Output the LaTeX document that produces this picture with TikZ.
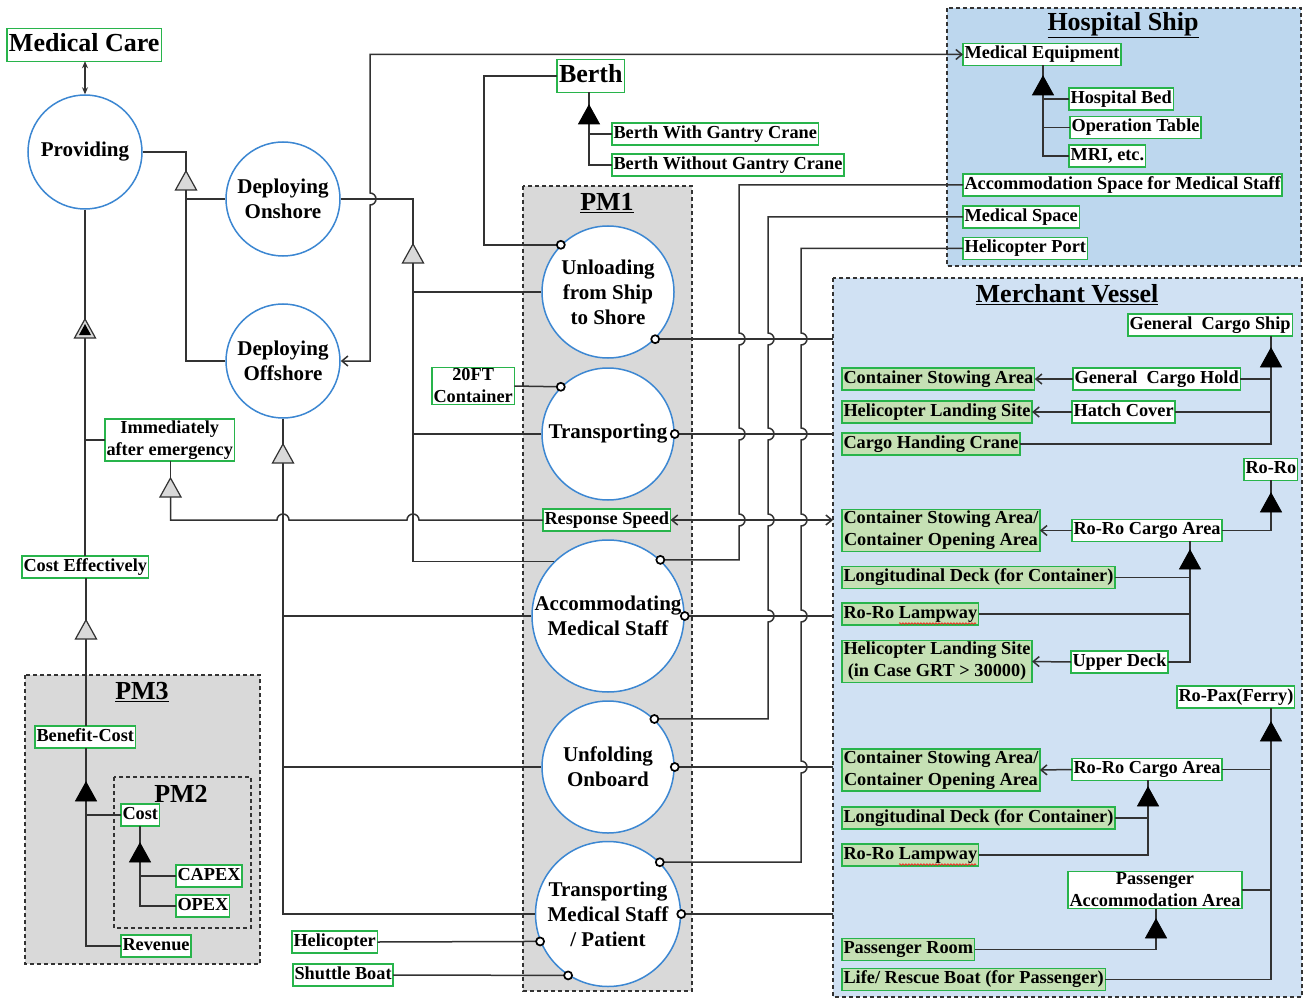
\documentclass[tikz,border=0pt]{standalone}
\usepackage{fontspec}
\setmainfont{Liberation Serif}
\usetikzlibrary{arrows.meta,decorations.pathmorphing}
\definecolor{linec}{RGB}{50,50,50}
\definecolor{greenb}{RGB}{40,180,75}
\definecolor{greenf}{RGB}{197,224,180}
\definecolor{circb}{RGB}{60,135,210}
\definecolor{grayf}{RGB}{217,217,217}
\definecolor{hsf}{RGB}{189,215,238}
\definecolor{mvf}{RGB}{208,225,243}
\newcommand\fz[2]{\fontsize{#1}{#2}\selectfont\bfseries}
\newcommand\gtri[1]{\draw[trigray,shift={(#1)}] (-10.5,0) -- (10.5,0) -- (0,-19) -- cycle;}
\newcommand\btri[1]{\draw[triblk,shift={(#1)}] (-10.5,0) -- (10.5,0) -- (0,-19) -- cycle;}
\newcommand\dtri[1]{\gtri{#1}\fill[black,shift={(#1)}] (-6,-3) -- (6,-3) -- (0,-14) -- cycle;}
\begin{document}
\begin{tikzpicture}[x=1pt,y=-1pt,
  ln/.style={draw=linec,line width=1.5pt},
  lbl/.style={draw=greenb,fill=white,line width=1.3pt,inner xsep=1.5pt,inner ysep=2.2pt,
    text height=13pt,text depth=4.5pt,font=\fz{18.3}{21},anchor=west,outer sep=0pt},
  glbl/.style={lbl,fill=greenf},
  lbl2/.style={draw=greenb,fill=white,line width=1.3pt,inner xsep=1.5pt,inner ysep=1.5pt,
    font=\fz{18.3}{22},anchor=west,align=center,outer sep=0pt},
  glbl2/.style={lbl2,fill=greenf},
  big/.style={lbl,font=\fz{26}{30},text height=18pt,text depth=5.5pt,inner ysep=4.5pt,inner xsep=2pt},
  proc/.style={circle,draw=circb,fill=white,line width=1.5pt,inner sep=0pt},
  ptxt/.style={font=\fz{21}{25},align=center,inner sep=0pt},
  frame/.style={draw=black!80,dash pattern=on 4pt off 3pt,line width=1.1pt},
  ttl/.style={font=\fz{26}{30}},
  trigray/.style={draw=linec,fill=grayf,line width=1.2pt},
  triblk/.style={draw=black,fill=black,line width=0.8pt},
  port/.style={draw=black,fill=white,line width=1.7pt},
  obarb/.tip={Straight Barb[length=6pt,width=10pt]}
]
\fill[white] (0,0) rectangle (1306,1000);
\useasboundingbox (0,0) rectangle (1306,1000);

% frames
\draw[frame,fill=hsf] (947,8) rectangle (1301,266);
\draw[frame,fill=mvf] (833,278) rectangle (1302,997);
\draw[frame,fill=grayf] (523,186) rectangle (692,991);
\draw[frame,fill=grayf] (25,675) rectangle (260,964);
\draw[frame] (114,777) rectangle (251,928);

% titles
\node[ttl] (hst) at (1123,25) {\underline{Hospital Ship}};
\node[ttl] (mvt) at (1067,295) {\underline{Merchant Vessel}};
\node[ttl] (pm1t) at (607,203) {\underline{PM1}};
\node[ttl] (pm3t) at (142,692) {\underline{PM3}};
\node[ttl] (pm2t) at (181,794) {PM2};

% process circles
\node[proc,minimum size=114pt,label={[ptxt]center:Providing}] (prov) at (85,152) {};
\node[proc,minimum size=114pt,label={[ptxt]center:{Deploying\\Onshore}}] (onsh) at (283,199) {};
\node[proc,minimum size=114pt,label={[ptxt]center:{Deploying\\Offshore}}] (offs) at (283,361) {};
\node[proc,minimum size=132pt,label={[ptxt]center:{Unloading\\from Ship\\to Shore}}] (unload) at (608,292) {};
\node[proc,minimum size=132pt,label={[ptxt]center:Transporting}] (transp) at (608,434) {};
\node[proc,minimum size=152pt,label={[ptxt]center:{Accommodating\\Medical Staff}}] (acc) at (608,616) {};
\node[proc,minimum size=132pt,label={[ptxt]center:{Unfolding\\Onboard}}] (unf) at (608,767) {};
\node[proc,minimum size=145pt,label={[ptxt]center:{Transporting\\Medical Staff\\/ Patient}}] (tms) at (608,914) {};

% labels
\node[big] (medcare) at (7,45) {Medical Care};
\node[big] (berth) at (557,76) {Berth};
\node[lbl2] (immed) at (105,440) {Immediately\\after emergency};
\node[lbl] (costeff) at (22,567) {Cost Effectively};
\node[lbl] (bencost) at (35,737) {Benefit-Cost};
\node[lbl] (cost) at (121,815) {Cost};
\node[lbl] (capex) at (176,876) {CAPEX};
\node[lbl] (opex) at (176,906) {OPEX};
\node[lbl] (revenue) at (121,946) {Revenue};
\node[lbl] (heli) at (292,942) {Helicopter};
\node[lbl] (shuttle) at (293,975) {Shuttle Boat};
\node[lbl2] (ft20) at (432,386) {20FT\\Container};
\node[lbl] (resp) at (543,520) {Response Speed};
\node[lbl] (bwith) at (612,134) {Berth With Gantry Crane};
\node[lbl] (bwithout) at (612,165) {Berth Without Gantry Crane};
\node[lbl] (medeq) at (963,54.5) {Medical Equipment};
\node[lbl] (hbed) at (1069,99) {Hospital Bed};
\node[lbl] (optab) at (1070,127.5) {Operation Table};
\node[lbl] (mri) at (1069,156) {MRI, etc.};
\node[lbl] (accsp) at (963,185) {Accommodation Space for Medical Staff};
\node[lbl] (medsp) at (963,217) {Medical Space};
\node[lbl] (heliport) at (963,248.5) {Helicopter Port};
\node[lbl] (gcs) at (1128,325) {General\ \ Cargo Ship};
\node[glbl] (csa1) at (842,379) {Container Stowing Area};
\node[lbl] (gch) at (1073,379) {General\ \ Cargo Hold};
\node[glbl] (hls1) at (842,412) {Helicopter Landing Site};
\node[lbl] (hatch) at (1072,412) {Hatch Cover};
\node[glbl] (crane) at (842,444) {Cargo Handing Crane};
\node[lbl] (roro) at (1244,469.5) {Ro-Ro};
\node[glbl2] (cc1) at (842,530.5) {Container Stowing Area/\\Container Opening Area};
\node[lbl] (rrca1) at (1072,530.5) {Ro-Ro Cargo Area};
\node[glbl] (ld1) at (842,577.5) {Longitudinal Deck (for Container)};
\node[glbl] (lamp1) at (842,614) {Ro-Ro Lampway};
\node[glbl2] (hls2) at (842,661.5) {Helicopter Landing Site\\(in Case GRT > 30000)};
\node[lbl] (upper) at (1071,662) {Upper Deck};
\node[lbl] (ropax) at (1177,697) {Ro-Pax(Ferry)};
\node[glbl2] (cc2) at (842,770) {Container Stowing Area/\\Container Opening Area};
\node[lbl] (rrca2) at (1072,769.5) {Ro-Ro Cargo Area};
\node[glbl] (ld2) at (842,818) {Longitudinal Deck (for Container)};
\node[glbl] (lamp2) at (842,855) {Ro-Ro Lampway};
\node[lbl2] (paa) at (1068,890) {Passenger\\Accommodation Area};
\node[glbl] (proom) at (842,949.5) {Passenger Room};
\node[glbl] (life) at (842,979.5) {Life/ Rescue Boat (for Passenger)};

% spell-check squiggles
\draw[red,line width=0.6pt,decorate,decoration={snake,amplitude=0.8pt,segment length=3pt}] (899,623.5) -- (976,623.5);
\draw[red,line width=0.6pt,decorate,decoration={snake,amplitude=0.8pt,segment length=3pt}] (899,864.5) -- (976,864.5);

% junction coordinates (triangle bases)
\coordinate (tP) at (186,190);
\coordinate (tO) at (413,263);
\coordinate (tF) at (283,463);
\coordinate (tM) at (85,338);
\coordinate (tC) at (86,639);
\coordinate (tI) at (170.5,497);
\coordinate (tB) at (589,124);
\coordinate (tE) at (1043,95);
\coordinate (tG) at (1271,367);
\coordinate (tR) at (1271,512);
\coordinate (tRC) at (1190,569);
\coordinate (tX) at (1271,741);
\coordinate (tRC2) at (1148,806);
\coordinate (tPA) at (1156,938);
\coordinate (tBC) at (86,801);
\coordinate (tCO) at (140,862);
\coordinate (mvw) at (833,0);

% connectors
\draw[ln,line width=1.2pt,{Stealth[length=7pt,width=6pt]}-{Stealth[length=7pt,width=6pt]}] (medcare.south -| prov.north) -- (prov.north);

\draw[ln] (prov.east) -| (tP);
\draw[ln] (onsh.west) -- (onsh.west -| tP);
\draw[ln] (offs.west) -| (tP);

\draw[ln] (onsh.east) -| (tO);
\draw[ln] (unload.west) -| (tO);
\draw[ln] (transp.west) -| (tO);
\draw[ln] (acc.135) -| (tO);

\draw[ln] (offs.south) -- (tF);
\draw[ln] (acc.west) -| (tF);
\draw[ln] (unf.west) -| (tF);
\draw[ln] (tms.west) -| (tF);

\draw[ln] (prov.south) -- (tM);
\draw[ln] (immed.west) -| (tM);
\draw[ln] (costeff.north -| tM) -- (tM);
\draw[ln] (costeff.south -| tC) -- (tC);
\draw[ln] (bencost.north -| tC) -- (tC);
\draw[ln] (bencost.south -| tBC) -- (tBC);
\draw[ln] (cost.west) -| (tBC);
\draw[ln] (revenue.west) -| (tBC);
\draw[ln] (cost.south -| tCO) -- (tCO);
\draw[ln] (capex.west) -| (tCO);
\draw[ln] (opex.west) -| (tCO);

\draw[ln] (immed.south -| tI) -- (tI);
\draw[ln] (tI) |- (277,520) arc[start angle=180,end angle=0,radius=6pt] -- (407,520) arc[start angle=180,end angle=0,radius=6pt] -- (resp.west);
\draw[ln,obarb-obarb] (resp.east) -- (resp.east -| mvw);

\draw[ln] (berth.west) -- ++(-73,0) |- (unload.135);
\draw[ln] (berth.south -| tB) -- (tB);
\draw[ln] (bwith.west) -| (tB);
\draw[ln] (bwithout.west) -| (tB);

\draw[ln] (ft20.east) -- (transp.135);
\draw[ln] (heli.east) -- (tms.202);
\draw[ln] (shuttle.east) -- (tms.237);

\draw[ln,obarb-obarb] (offs.east) -| (370,205) arc[start angle=-90,end angle=90,radius=6pt] |- (medeq.west);

\draw[ln] (unload.-45) -- (unload.-45 -| mvw);
\draw[ln] (transp.east) -- (transp.east -| mvw);
\draw[ln] (acc.east) -- (acc.east -| mvw);
\draw[ln] (unf.east) -- (unf.east -| mvw);
\draw[ln] (tms.east) -- (tms.east -| mvw);

\draw[ln] (accsp.west) -| (739,333) arc[start angle=90,end angle=-90,radius=6pt]
  -- (739,428) arc[start angle=90,end angle=-90,radius=6pt]
  -- (739,514) arc[start angle=90,end angle=-90,radius=6pt] |- (acc.47);
\draw[ln] (medsp.west) -| (768,333) arc[start angle=90,end angle=-90,radius=6pt]
  -- (768,428) arc[start angle=90,end angle=-90,radius=6pt]
  -- (768,514) arc[start angle=90,end angle=-90,radius=6pt]
  -- (768,610) arc[start angle=90,end angle=-90,radius=6pt] |- (unf.46);
\draw[ln] (heliport.west) -| (801,333) arc[start angle=90,end angle=-90,radius=6pt]
  -- (801,428) arc[start angle=90,end angle=-90,radius=6pt]
  -- (801,514) arc[start angle=90,end angle=-90,radius=6pt]
  -- (801,610) arc[start angle=90,end angle=-90,radius=6pt]
  -- (801,761) arc[start angle=90,end angle=-90,radius=6pt] |- (tms.45);

\draw[ln] (medeq.south -| tE) -- (tE);
\draw[ln] (hbed.west) -| (tE);
\draw[ln] (optab.west) -| (tE);
\draw[ln] (mri.west) -| (tE);

\draw[ln] (gcs.south -| tG) -- (tG);
\draw[ln] (gch.east) -| (tG);
\draw[ln] (hatch.east) -| (tG);
\draw[ln] (crane.east) -| (tG);
\draw[ln,-obarb] (gch.west) -- (csa1.east);
\draw[ln,-obarb] (hatch.west) -- (hls1.east);
\draw[ln] (roro.south -| tR) -- (tR);
\draw[ln] (rrca1.east) -| (tR);
\draw[ln,-obarb] (rrca1.west) -- (cc1.east);
\draw[ln] (rrca1.south -| tRC) -- (tRC);
\draw[ln] (ld1.east) -| (tRC);
\draw[ln] (lamp1.east) -| (tRC);
\draw[ln] (upper.east) -| (tRC);
\draw[ln,-obarb] (upper.west) -- (hls2.east);
\draw[ln] (ropax.south -| tX) -- (tX);
\draw[ln] (rrca2.east) -| (tX);
\draw[ln] (paa.east) -| (tX);
\draw[ln] (life.east) -| (tX);
\draw[ln,-obarb] (rrca2.west) -- (cc2.east);
\draw[ln] (rrca2.south -| tRC2) -- (tRC2);
\draw[ln] (ld2.east) -| (tRC2);
\draw[ln] (lamp2.east) -| (tRC2);
\draw[ln] (paa.south -| tPA) -- (tPA);
\draw[ln] (proom.east) -| (tPA);

% triangles
\gtri{tP} \gtri{tO} \gtri{tF} \gtri{tC} \gtri{tI}
\dtri{tM}
\btri{tB} \btri{tE} \btri{tG} \btri{tR} \btri{tRC} \btri{tX} \btri{tRC2} \btri{tPA} \btri{tBC} \btri{tCO}

% ports
\foreach \p in {unload.135,unload.-45,transp.135,transp.0,acc.47,acc.0,unf.46,unf.0,tms.45,tms.0,tms.202,tms.237}
  \draw[port] (\p) circle[radius=4pt];
\end{tikzpicture}
\end{document}
